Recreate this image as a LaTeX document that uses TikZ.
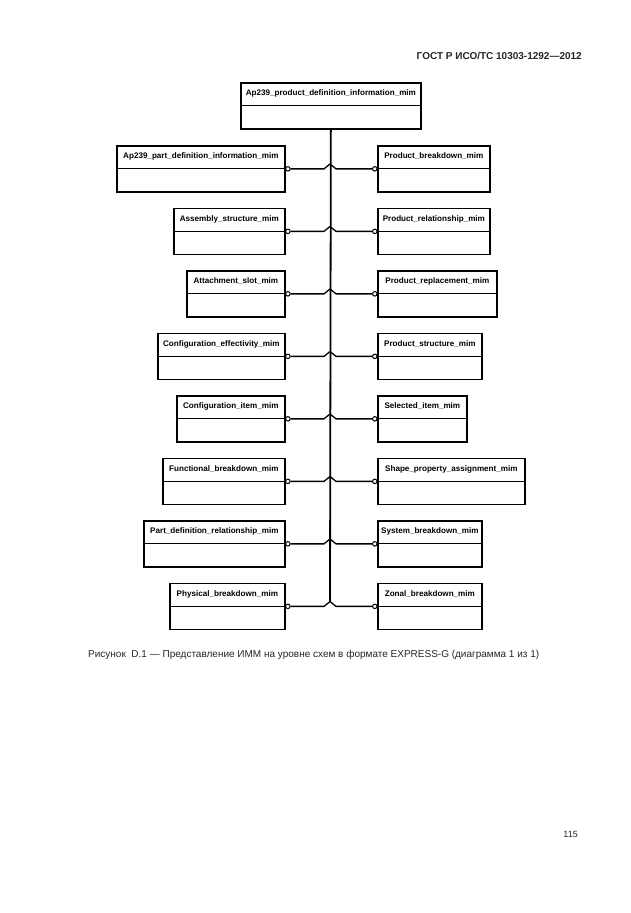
\documentclass[tikz,border=0pt]{standalone}
\usepackage{fontspec}
\setmainfont{Liberation Sans}
\begin{document}
\begin{tikzpicture}[x=1pt,y=-1pt,
  ebox/.style={draw,line width=1.7pt,minimum height=46pt,inner sep=0pt,anchor=north west},
  sepline/.style={line width=0.9pt},
  lbl/.style={font=\fontsize{8.1}{9}\selectfont\bfseries,inner sep=0pt},
  conn/.style={circle,draw,fill=white,line width=1pt,minimum size=4.5pt,inner sep=0pt},
  branch/.style={line width=1.3pt},
  trunk/.style={line width=1.8pt},
  pagetext/.style={inner sep=0pt,text=black!85}]
\useasboundingbox[fill=white] (0,0) rectangle (630,913);

\node[pagetext,anchor=east,font=\fontsize{10}{12}\selectfont\bfseries] (hdr) at (582,56) {ГОСТ Р ИСО/ТС 10303-1292—2012};

\node[ebox,minimum width=180pt] (T) at (240,82) {};
\draw[sepline] (T.west) -- (T.east);
\node[lbl] (Tt) at ([yshift=-11.5pt]T.north) {Ap239\_product\_definition\_information\_mim};

\foreach \n/\xa/\w/\t/\txt in {
  1/116/168/145/{Ap239\_part\_definition\_information\_mim},
  2/173/111/207.5/{Assembly\_structure\_mim},
  3/186/98/270/{Attachment\_slot\_mim},
  4/157/127/332.5/{Configuration\_effectivity\_mim},
  5/176/108/395/{Configuration\_item\_mim},
  6/162/122/457.5/{Functional\_breakdown\_mim},
  7/143/141/520/{Part\_definition\_relationship\_mim},
  8/169/115/582.5/{Physical\_breakdown\_mim}}{
  \node[ebox,minimum width=\w pt] (L\n) at (\xa,\t) {};
  \draw[sepline] (L\n.west) -- (L\n.east);
  \node[lbl] (Lt\n) at ([yshift=-11.5pt]L\n.north) {\txt};
  \coordinate (J\n) at (330,{\t+19});
  \node[conn] (Lc\n) at ([xshift=2.2pt]L\n.east) {};
  \draw[branch] (Lc\n.east) -- ([xshift=-6pt]J\n |- Lc\n) -- (J\n);
}

\foreach \n/\w/\t/\txt in {
  1/112/145/{Product\_breakdown\_mim},
  2/112/207.5/{Product\_relationship\_mim},
  3/119/270/{Product\_replacement\_mim},
  4/104/332.5/{Product\_structure\_mim},
  5/89/395/{Selected\_item\_mim},
  6/147/457.5/{Shape\_property\_assignment\_mim},
  7/104/520/{System\_breakdown\_mim},
  8/104/582.5/{Zonal\_breakdown\_mim}}{
  \node[ebox,minimum width=\w pt] (R\n) at (377,\t) {};
  \draw[sepline] (R\n.west) -- (R\n.east);
  \node[lbl] (Rt\n) at ([yshift=-11.5pt]R\n.north) {\txt};
  \node[conn] (Rc\n) at ([xshift=-2.2pt]R\n.west) {};
  \draw[branch] (Rc\n.west) -- ([xshift=6pt]J\n |- Rc\n) -- (J\n);
}

\draw[trunk] (T.south) -- (J8);

\node[pagetext,anchor=west,font=\fontsize{10}{12}\selectfont] (cap) at (88,655) {Рисунок\ \ D.1 — Представление ИММ на уровне схем в формате EXPRESS-G (диаграмма 1 из 1)};
\node[pagetext,anchor=east,font=\fontsize{9}{11}\selectfont] (pg) at (578,834) {115};
\end{tikzpicture}
\end{document}
